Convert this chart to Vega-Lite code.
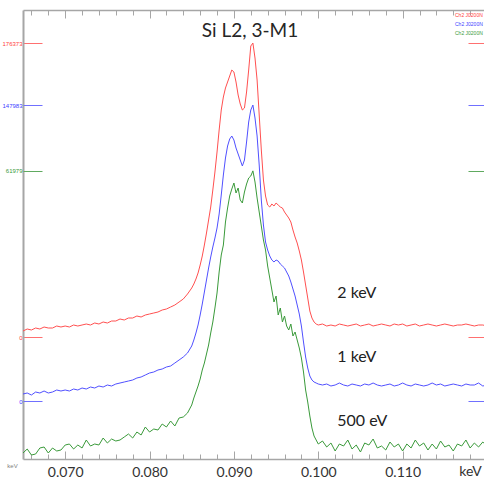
{
"$schema": "https://vega.github.io/schema/vega-lite/v6.json",
"width": 464, "height": 449,
"autosize": {"type": "none"},
"padding": {"left": 23, "top": 10, "right": 0, "bottom": 20},
"background": "white",
"title": {"text": "Si L2, 3-M1", "font": "Lato", "fontSize": 19, "fontWeight": "normal", "color": "#262626", "anchor": "middle", "offset": -31, "dx": -5},
"config": {"view": {"stroke": null}, "axis": {"grid": false, "domainColor": "#a6a6a6", "tickColor": "#a6a6a6", "labelFont": "Lato", "titleFont": "Lato"}},
"data": {"values": [
{"E":0.065,"I2":3600,"I1":3500,"I05":2730},
{"E":0.0655,"I2":4800,"I1":4000,"I05":3570},
{"E":0.066,"I2":4200,"I1":3000,"I05":2310},
{"E":0.0665,"I2":5400,"I1":4500,"I05":2520},
{"E":0.067,"I2":4800,"I1":4000,"I05":3780},
{"E":0.0675,"I2":6000,"I1":5000,"I05":3990},
{"E":0.068,"I2":5400,"I1":4000,"I05":2730},
{"E":0.0685,"I2":5400,"I1":4500,"I05":3780},
{"E":0.069,"I2":6600,"I1":5500,"I05":3150},
{"E":0.0695,"I2":6000,"I1":5000,"I05":3360},
{"E":0.07,"I2":6600,"I1":5500,"I05":4410},
{"E":0.0705,"I2":6000,"I1":5000,"I05":4620},
{"E":0.071,"I2":7200,"I1":6000,"I05":3570},
{"E":0.0715,"I2":6600,"I1":5500,"I05":4410},
{"E":0.072,"I2":7200,"I1":6500,"I05":3780},
{"E":0.0725,"I2":7800,"I1":6000,"I05":5460},
{"E":0.073,"I2":7200,"I1":7000,"I05":4200},
{"E":0.0735,"I2":8400,"I1":6500,"I05":4620},
{"E":0.074,"I2":7800,"I1":7500,"I05":4410},
{"E":0.0745,"I2":9000,"I1":7000,"I05":5880},
{"E":0.075,"I2":8400,"I1":8000,"I05":4830},
{"E":0.0755,"I2":9600,"I1":7500,"I05":5670},
{"E":0.076,"I2":9600,"I1":8500,"I05":5250},
{"E":0.0765,"I2":10800,"I1":9000,"I05":5460},
{"E":0.077,"I2":10200,"I1":9500,"I05":6090},
{"E":0.0775,"I2":11400,"I1":10000,"I05":6720},
{"E":0.078,"I2":11400,"I1":10500,"I05":5880},
{"E":0.0785,"I2":12600,"I1":11500,"I05":7140},
{"E":0.079,"I2":12000,"I1":12000,"I05":6510},
{"E":0.0795,"I2":13200,"I1":13000,"I05":8190},
{"E":0.08,"I2":13800,"I1":14000,"I05":7140},
{"E":0.0805,"I2":14400,"I1":14500,"I05":7770},
{"E":0.081,"I2":15000,"I1":15500,"I05":7560},
{"E":0.0815,"I2":16200,"I1":16000,"I05":8820},
{"E":0.082,"I2":16800,"I1":17000,"I05":8190},
{"E":0.0825,"I2":18000,"I1":17500,"I05":9450},
{"E":0.083,"I2":19200,"I1":19000,"I05":8400},
{"E":0.0835,"I2":21000,"I1":20500,"I05":10080},
{"E":0.084,"I2":22800,"I1":22000,"I05":10290},
{"E":0.0845,"I2":25800,"I1":24000,"I05":11130},
{"E":0.085,"I2":29400,"I1":27500,"I05":12810},
{"E":0.08525,"I2":31800,"I1":30500,"I05":14280},
{"E":0.0855,"I2":34800,"I1":34000,"I05":15540},
{"E":0.08575,"I2":38400,"I1":38000,"I05":16800},
{"E":0.086,"I2":43200,"I1":43000,"I05":18270},
{"E":0.08625,"I2":48600,"I1":48500,"I05":20160},
{"E":0.0865,"I2":55200,"I1":54500,"I05":21630},
{"E":0.08675,"I2":62400,"I1":60500,"I05":23520},
{"E":0.087,"I2":70200,"I1":66500,"I05":25410},
{"E":0.08725,"I2":78000,"I1":72000,"I05":27930},
{"E":0.0875,"I2":88200,"I1":77000,"I05":30240},
{"E":0.08775,"I2":99000,"I1":81500,"I05":33180},
{"E":0.088,"I2":111000,"I1":86500,"I05":36330},
{"E":0.08825,"I2":124200,"I1":93500,"I05":40740},
{"E":0.0885,"I2":136200,"I1":103000,"I05":44310},
{"E":0.08875,"I2":144000,"I1":113000,"I05":46410},
{"E":0.089,"I2":149400,"I1":121500,"I05":51240},
{"E":0.08925,"I2":153000,"I1":127500,"I05":54180},
{"E":0.0895,"I2":156600,"I1":131000,"I05":56700},
{"E":0.08975,"I2":160200,"I1":132500,"I05":58170},
{"E":0.09,"I2":159000,"I1":130500,"I05":59430},
{"E":0.09025,"I2":153000,"I1":126500,"I05":57330},
{"E":0.0905,"I2":145200,"I1":123500,"I05":58380},
{"E":0.09075,"I2":139800,"I1":120500,"I05":55860},
{"E":0.091,"I2":136200,"I1":117500,"I05":55230},
{"E":0.09125,"I2":137400,"I1":120500,"I05":57540},
{"E":0.0915,"I2":147000,"I1":129500,"I05":59220},
{"E":0.09175,"I2":160200,"I1":139500,"I05":60480},
{"E":0.092,"I2":174600,"I1":145500,"I05":60900},
{"E":0.09225,"I2":176373,"I1":147983,"I05":61979},
{"E":0.0925,"I2":167400,"I1":141500,"I05":59640},
{"E":0.09275,"I2":154200,"I1":132500,"I05":56280},
{"E":0.093,"I2":133200,"I1":118000,"I05":53340},
{"E":0.09325,"I2":112200,"I1":100500,"I05":50400},
{"E":0.0935,"I2":94200,"I1":88000,"I05":47460},
{"E":0.09375,"I2":84600,"I1":79500,"I05":45360},
{"E":0.094,"I2":79200,"I1":75500,"I05":42000},
{"E":0.09425,"I2":78000,"I1":72500,"I05":39480},
{"E":0.0945,"I2":79800,"I1":70500,"I05":36960},
{"E":0.09475,"I2":78600,"I1":69500,"I05":34440},
{"E":0.095,"I2":80400,"I1":70500,"I05":35700},
{"E":0.09525,"I2":79200,"I1":70000,"I05":31710},
{"E":0.0955,"I2":78000,"I1":68500,"I05":33180},
{"E":0.09575,"I2":77400,"I1":67500,"I05":30240},
{"E":0.096,"I2":75000,"I1":66500,"I05":31500},
{"E":0.09625,"I2":73200,"I1":64500,"I05":29400},
{"E":0.0965,"I2":71400,"I1":62500,"I05":28560},
{"E":0.09675,"I2":69000,"I1":59500,"I05":29820},
{"E":0.097,"I2":64200,"I1":56000,"I05":27300},
{"E":0.09725,"I2":60000,"I1":52500,"I05":28140},
{"E":0.0975,"I2":56400,"I1":48000,"I05":26460},
{"E":0.09775,"I2":51600,"I1":43500,"I05":24780},
{"E":0.098,"I2":46200,"I1":37500,"I05":22680},
{"E":0.09825,"I2":39000,"I1":29500,"I05":19740},
{"E":0.0985,"I2":31200,"I1":22000,"I05":15960},
{"E":0.09875,"I2":23400,"I1":16500,"I05":13440},
{"E":0.099,"I2":15600,"I1":12500,"I05":10500},
{"E":0.09925,"I2":11400,"I1":10500,"I05":7980},
{"E":0.0995,"I2":9000,"I1":9500,"I05":6300},
{"E":0.09975,"I2":7800,"I1":9000,"I05":5460},
{"E":0.1,"I2":7200,"I1":8500,"I05":4620},
{"E":0.1005,"I2":7800,"I1":8000,"I05":5250},
{"E":0.101,"I2":6600,"I1":8500,"I05":3990},
{"E":0.1015,"I2":7200,"I1":7500,"I05":4830},
{"E":0.102,"I2":6600,"I1":8000,"I05":3150},
{"E":0.1025,"I2":7800,"I1":9000,"I05":4620},
{"E":0.103,"I2":7200,"I1":8000,"I05":4200},
{"E":0.1035,"I2":6600,"I1":7500,"I05":5460},
{"E":0.104,"I2":7200,"I1":8500,"I05":3570},
{"E":0.1045,"I2":7800,"I1":8000,"I05":4410},
{"E":0.105,"I2":6600,"I1":7500,"I05":2940},
{"E":0.1055,"I2":7200,"I1":8500,"I05":4830},
{"E":0.106,"I2":7800,"I1":8000,"I05":4410},
{"E":0.1065,"I2":6600,"I1":9000,"I05":5670},
{"E":0.107,"I2":7200,"I1":8000,"I05":3780},
{"E":0.1075,"I2":7800,"I1":7500,"I05":4200},
{"E":0.108,"I2":7200,"I1":8000,"I05":3360},
{"E":0.1085,"I2":6600,"I1":8500,"I05":5040},
{"E":0.109,"I2":7800,"I1":7500,"I05":3990},
{"E":0.1095,"I2":7200,"I1":8000,"I05":4620},
{"E":0.11,"I2":7800,"I1":9000,"I05":3150},
{"E":0.1105,"I2":6600,"I1":8000,"I05":4620},
{"E":0.111,"I2":7200,"I1":7500,"I05":3780},
{"E":0.1115,"I2":7800,"I1":8500,"I05":5460},
{"E":0.112,"I2":6600,"I1":8000,"I05":4200},
{"E":0.1125,"I2":7200,"I1":7500,"I05":4830},
{"E":0.113,"I2":7800,"I1":8000,"I05":3360},
{"E":0.1135,"I2":7200,"I1":9000,"I05":4620},
{"E":0.114,"I2":6600,"I1":8000,"I05":3570},
{"E":0.1145,"I2":7200,"I1":8500,"I05":5250},
{"E":0.115,"I2":7800,"I1":7500,"I05":3990},
{"E":0.1155,"I2":7200,"I1":8000,"I05":4410},
{"E":0.116,"I2":6600,"I1":8500,"I05":3150},
{"E":0.1165,"I2":7200,"I1":8000,"I05":4620},
{"E":0.117,"I2":7200,"I1":7500,"I05":4200},
{"E":0.1175,"I2":7800,"I1":8500,"I05":5460},
{"E":0.118,"I2":7200,"I1":8000,"I05":3780},
{"E":0.1185,"I2":6600,"I1":8000,"I05":4830},
{"E":0.119,"I2":7200,"I1":9000,"I05":3990},
{"E":0.1195,"I2":7200,"I1":7500,"I05":5040},
{"E":0.12,"I2":6600,"I1":8000,"I05":4200}
]},
"layer": [
 {
  "layer": [
   {"mark": {"type": "line", "strokeWidth": 1},
    "encoding": {
     "x": {"field": "E", "type": "quantitative", "scale": {"domain": [0.065, 0.12], "nice": false, "zero": false},
      "axis": {"orient": "bottom", "values": [0.07, 0.08, 0.09, 0.1, 0.11],
       "tickSize": -8, "tickWidth": 1, "domainWidth": 1.5, "format": ".3f",
       "labelFontSize": 14, "labelColor": "#333333", "labelPadding": 14, "labelOverlap": false, "labelFlush": false, "labelBound": false,
       "title": "keV", "titleFontSize": 14, "titleFontWeight": "normal", "titleColor": "#333333", "titleX": 447, "titleY": 12, "titleBaseline": "middle", "titleAlign": "center"}},
     "y": {"field": "I2", "type": "quantitative", "scale": {"domain": [-73200, 196200], "nice": false, "zero": false},
      "axis": {"orient": "left", "values": [0, 176373], "format": "d", "tickSize": -19, "tickColor": "#ff7070", "tickWidth": 1, "labelColor": "#ff4040", "labelFontSize": 6, "labelFont": "Liberation Sans", "labelPadding": 20, "labelBaseline": "middle", "domainColor": "#a6a6a6", "domainWidth": 2, "title": null}},
     "color": {"datum": "r", "scale": {"domain": ["r", "b", "g"], "range": ["#ff5050", "#5050ff", "#3a9a3a"]},
      "legend": {"orient": "none", "legendX": 427, "legendY": 2, "title": null, "labelExpr": "'Ch2  J0200N'", "labelFontSize": 5, "labelFont": "Liberation Sans", "symbolOpacity": 0, "symbolSize": 1, "labelOffset": 0, "padding": 0, "rowPadding": 3,
       "labelColor": {"expr": "datum.value == 'r' ? '#ff4040' : datum.value == 'b' ? '#4040ff' : '#3a9a3a'"}}}
    }},
   {"data": {"values": [{"E": 0.10225, "I2": 26400, "label": "2 keV"}]},
    "mark": {"type": "text", "align": "left", "baseline": "middle", "font": "Lato", "fontSize": 16, "color": "#222222"},
    "encoding": {
     "x": {"field": "E", "type": "quantitative", "scale": {"domain": [0.065, 0.12], "nice": false, "zero": false},
      "axis": {"orient": "bottom", "values": [0.066,0.068,0.072,0.074,0.076,0.078,0.082,0.084,0.086,0.088,0.092,0.094,0.096,0.098,0.102,0.104,0.106,0.108,0.112,0.114,0.116,0.118],
       "tickSize": -5, "tickWidth": 1, "labels": false, "domain": false, "title": null}},
     "y": {"field": "I2", "type": "quantitative", "scale": {"domain": [-73200, 196200], "nice": false, "zero": false},
      "axis": {"orient": "right", "values": [0, 176373], "tickSize": -19, "tickColor": "#ff7070", "tickWidth": 1, "labels": false, "domain": false, "title": null}},
     "text": {"field": "label"}}}
  ],
  "resolve": {"axis": {"x": "independent", "y": "independent"}}
 },
 {
  "layer": [
   {"mark": {"type": "line", "strokeWidth": 1},
    "encoding": {
     "x": {"field": "E", "type": "quantitative", "scale": {"domain": [0.065, 0.12], "nice": false, "zero": false},
      "axis": {"orient": "top", "values": [0.07, 0.08, 0.09, 0.1, 0.11],
       "tickSize": -8, "tickWidth": 1, "domainWidth": 1.5, "labels": false, "title": null}},
     "y": {"field": "I1", "type": "quantitative", "scale": {"domain": [-29000, 195500], "nice": false, "zero": false},
      "axis": {"orient": "left", "values": [0, 147983], "format": "d", "tickSize": -19, "tickColor": "#7070ff", "tickWidth": 1, "labelColor": "#4040ff", "labelFontSize": 6, "labelFont": "Liberation Sans", "labelPadding": 20, "labelBaseline": "middle", "domain": false, "title": null}},
     "color": {"datum": "b"}
    }},
   {"data": {"values": [{"E": 0.10225, "I1": 22000, "label": "1 keV"}]},
    "mark": {"type": "text", "align": "left", "baseline": "middle", "font": "Lato", "fontSize": 16, "color": "#222222"},
    "encoding": {
     "x": {"field": "E", "type": "quantitative", "scale": {"domain": [0.065, 0.12], "nice": false, "zero": false},
      "axis": {"orient": "top", "values": [0.066,0.068,0.072,0.074,0.076,0.078,0.082,0.084,0.086,0.088,0.092,0.094,0.096,0.098,0.102,0.104,0.106,0.108,0.112,0.114,0.116,0.118],
       "tickSize": -5, "tickWidth": 1, "labels": false, "domain": false, "title": null}},
     "y": {"field": "I1", "type": "quantitative", "scale": {"domain": [-29000, 195500], "nice": false, "zero": false},
      "axis": {"orient": "right", "values": [0, 147983], "tickSize": -19, "tickColor": "#7070ff", "tickWidth": 1, "labels": false, "domain": false, "title": null}},
     "text": {"field": "label"}}}
  ],
  "resolve": {"axis": {"x": "independent", "y": "independent"}}
 },
 {
  "layer": [
   {"mark": {"type": "line", "strokeWidth": 1},
    "encoding": {
     "x": {"field": "E", "type": "quantitative", "scale": {"domain": [0.065, 0.12], "nice": false, "zero": false}, "axis": null},
     "y": {"field": "I05", "type": "quantitative", "scale": {"domain": [1470, 95760], "nice": false, "zero": false},
      "axis": {"orient": "left", "values": [0, 61979], "format": "d", "tickSize": -19, "tickColor": "#60aa60", "tickWidth": 1, "labelColor": "#3a9a3a", "labelFontSize": 6, "labelFont": "Liberation Sans", "labelPadding": 20, "labelBaseline": "middle", "domain": false,
       "title": "keV", "titleAngle": 0, "titleFontSize": 6, "titleFont": "Liberation Sans", "titleFontWeight": "normal", "titleColor": "#808080", "titleX": -11, "titleY": 455, "titleAlign": "center", "titleBaseline": "middle"}},
     "color": {"datum": "g"}
    }},
   {"data": {"values": [{"E": 0.10225, "I05": 9450, "label": "500 eV"}]},
    "mark": {"type": "text", "align": "left", "baseline": "middle", "font": "Lato", "fontSize": 16, "color": "#222222"},
    "encoding": {
     "x": {"field": "E", "type": "quantitative", "scale": {"domain": [0.065, 0.12], "nice": false, "zero": false}, "axis": null},
     "y": {"field": "I05", "type": "quantitative", "scale": {"domain": [1470, 95760], "nice": false, "zero": false},
      "axis": {"orient": "right", "values": [0, 61979], "tickSize": -19, "tickColor": "#60aa60", "tickWidth": 1, "labels": false, "domain": false, "title": null}},
     "text": {"field": "label"}}}
  ],
  "resolve": {"axis": {"y": "independent"}}
 }
],
"resolve": {"scale": {"y": "independent"}, "axis": {"x": "independent"}}
}
